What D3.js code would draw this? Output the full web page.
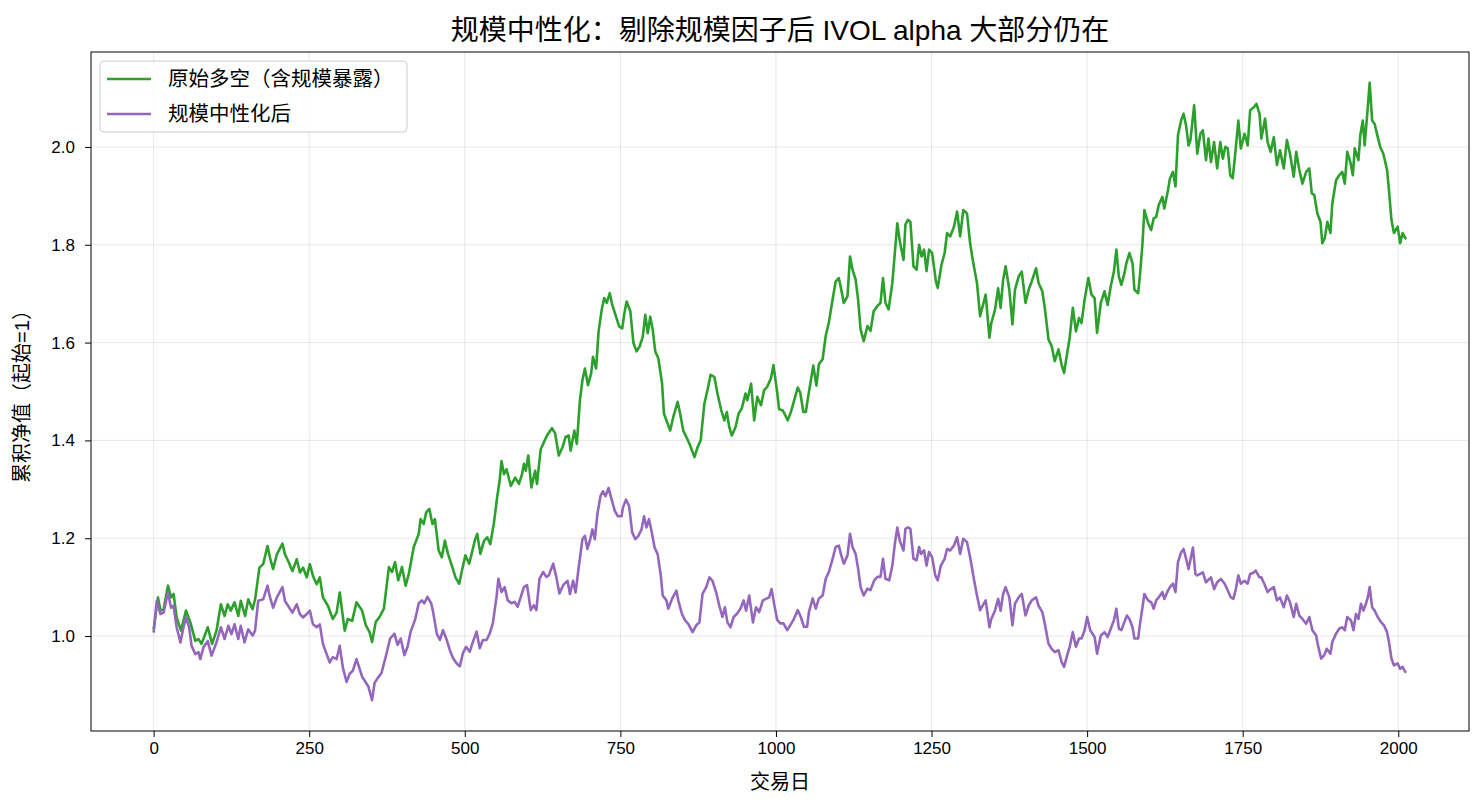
<!DOCTYPE html>
<html>
<head>
<meta charset="utf-8">
<script src="https://cdn.jsdelivr.net/npm/d3@7"></script>
<style>
  body { margin: 0; background: #fff; }
  text { font-family: "Liberation Sans", Arial, "Noto Sans CJK SC", sans-serif; }
</style>
</head>
<body>
<div id="chart"></div>
<script>
// [交易日, 累积净值]
var originalLS = [
  [0,1.014],[7,1.079],[11,1.052],[16,1.055],[23,1.103],[28,1.079],[32,1.086],[37,1.038],[44,1.011],[52,1.052],[59,1.028],[67,0.99],[72,0.994],[77,0.984],[87,1.018],[94,0.984],[101,1.011],[108,1.065],[114,1.041],[119,1.065],[124,1.052],[130,1.069],[136,1.041],[140,1.072],[147,1.041],[152,1.075],[159,1.055],[163,1.075],[170,1.14],[176,1.147],[183,1.184],[187,1.16],[192,1.137],[198,1.167],[207,1.189],[211,1.167],[216,1.154],[223,1.133],[230,1.157],[235,1.13],[240,1.14],[246,1.12],[251,1.147],[256,1.123],[262,1.106],[267,1.12],[272,1.079],[280,1.062],[288,1.035],[294,1.048],[299,1.089],[307,1.011],[312,1.035],[319,1.031],[326,1.069],
  [335,1.052],[341,1.022],[347,1.008],[351,0.988],[357,1.029],[363,1.039],[370,1.056],[378,1.141],[383,1.131],[388,1.151],[393,1.114],[399,1.141],[405,1.103],[410,1.127],[418,1.182],[426,1.209],[429,1.239],[434,1.229],[438,1.253],[443,1.26],[448,1.229],[452,1.239],[458,1.175],[463,1.161],[468,1.195],[473,1.168],[480,1.141],[485,1.12],[491,1.107],[496,1.137],[501,1.165],[507,1.148],[511,1.168],[516,1.195],[520,1.209],[525,1.168],[531,1.195],[536,1.202],[541,1.188],[547,1.233],[552,1.284],[556,1.318],[559,1.358],[563,1.331],[567,1.341],[574,1.307],[581,1.324],[587,1.311],[592,1.331],[595,1.352],[598,1.338],[602,1.369],[607,1.304],[613,1.338],[616,1.311],[622,1.382],[627,1.396],[632,1.41],[640,1.425],[645,1.415],[651,1.369],
  [657,1.386],[662,1.407],[667,1.41],[670,1.379],[676,1.42],[680,1.393],[685,1.482],[689,1.523],[693,1.547],[698,1.513],[703,1.537],[706,1.571],[711,1.547],[715,1.623],[720,1.667],[724,1.691],[728,1.681],[733,1.701],[737,1.677],[743,1.653],[748,1.633],[753,1.629],[756,1.657],[760,1.684],[766,1.664],[771,1.599],[776,1.582],[781,1.592],[786,1.612],[790,1.657],[794,1.619],[798,1.653],[802,1.626],[806,1.582],[811,1.568],[817,1.516],[820,1.455],[826,1.434],[830,1.42],[835,1.448],[842,1.479],[846,1.455],[851,1.42],[856,1.407],[862,1.39],[869,1.366],[874,1.386],[879,1.4],[885,1.475],[890,1.503],[895,1.534],[901,1.53],[906,1.496],[912,1.462],[917,1.441],[921,1.458],[925,1.427],[929,1.41],[935,1.427],[940,1.455],[945,1.465],[951,1.496],[954,1.482],[960,1.516],[965,1.441],[970,1.489],[976,1.472],[981,1.503],[986,1.51],[992,1.527],[996,1.554],
  [1002,1.498],[1005,1.464],[1011,1.461],[1014,1.454],[1019,1.441],[1024,1.458],[1029,1.481],[1035,1.508],[1039,1.498],[1044,1.458],[1048,1.458],[1052,1.491],[1056,1.522],[1060,1.553],[1065,1.512],[1069,1.556],[1075,1.566],[1080,1.614],[1085,1.641],[1091,1.688],[1096,1.725],[1101,1.732],[1105,1.708],[1109,1.681],[1115,1.695],[1119,1.776],[1123,1.749],[1128,1.729],[1132,1.688],[1136,1.627],[1141,1.603],[1147,1.634],[1152,1.624],[1157,1.664],[1163,1.675],[1168,1.681],[1172,1.732],[1176,1.681],[1181,1.668],[1187,1.722],[1191,1.783],[1195,1.844],[1199,1.807],[1205,1.769],[1208,1.841],[1212,1.851],[1216,1.847],[1221,1.756],[1226,1.749],[1230,1.8],[1234,1.776],[1238,1.79],[1242,1.746],[1246,1.79],[1251,1.783],[1257,1.725],[1260,1.712],[1266,1.759],[1271,1.783],[1275,1.824],[1280,1.817],[1286,1.837],[1291,1.868],[1296,1.817],[1301,1.871],[1307,1.864],[1312,1.803],[1317,1.763],[1323,1.722],[1328,1.654],
  [1337,1.698],[1343,1.61],[1346,1.64],[1352,1.667],[1357,1.711],[1361,1.671],[1365,1.728],[1369,1.756],[1375,1.708],[1380,1.637],[1384,1.708],[1390,1.735],[1395,1.745],[1401,1.681],[1406,1.708],[1411,1.725],[1418,1.752],[1422,1.722],[1428,1.705],[1432,1.671],[1438,1.606],[1443,1.593],[1448,1.562],[1454,1.586],[1459,1.555],[1463,1.538],[1468,1.579],[1472,1.61],[1477,1.671],[1482,1.623],[1487,1.65],[1491,1.64],[1496,1.688],[1502,1.732],[1507,1.698],[1512,1.691],[1516,1.62],[1522,1.681],[1528,1.705],[1533,1.677],[1538,1.715],[1543,1.745],[1547,1.79],[1551,1.735],[1555,1.718],[1560,1.742],[1563,1.762],[1568,1.783],[1573,1.762],[1576,1.708],[1582,1.701],[1585,1.739],[1589,1.803],[1592,1.871],[1598,1.844],[1603,1.83],[1607,1.854],[1611,1.857],[1615,1.881],[1621,1.898],[1624,1.874],[1630,1.912],[1633,1.935],[1638,1.949],[1642,1.919],[1646,2.024],[1651,2.054],[1655,2.068],[1659,2.044],[1663,2.003],
  [1666,2.014],[1672,2.085],[1677,1.986],[1682,2.027],[1686,2.034],[1691,1.973],[1695,2.017],[1699,1.969],[1704,2.01],[1709,1.956],[1714,2.01],[1718,1.976],[1722,2.0],[1726,1.997],[1730,1.942],[1734,1.936],[1738,1.986],[1743,2.054],[1747,1.997],[1753,2.027],[1758,2.003],[1762,2.075],[1768,2.081],[1772,2.088],[1777,2.068],[1780,2.017],[1786,2.058],[1790,2.01],[1795,1.99],[1800,2.02],[1805,1.963],[1810,1.993],[1816,1.956],[1821,2.014],[1826,1.986],[1832,1.939],[1836,1.99],[1841,1.953],[1846,1.925],[1852,1.949],[1857,1.956],[1861,1.905],[1865,1.902],[1870,1.864],[1875,1.847],[1878,1.803],[1882,1.814],[1886,1.847],[1891,1.824],[1894,1.885],[1900,1.932],[1905,1.942],[1910,1.949],[1914,1.925],[1918,1.99],[1923,1.969],[1927,1.942],[1930,1.997],[1936,1.973],[1939,2.024],[1943,2.054],[1946,2.003],[1951,2.081],[1954,2.131],[1958,2.054],[1962,2.047],[1967,2.02],[1971,2.0],[1976,1.986],[1982,1.953],[1985,1.912],[1989,1.851],[1993,1.824],[1999,1.837],[2003,1.803],[2007,1.824],[2011,1.814],[2013,1.812]
];

var neutralLS = [
  [0,1.007],[5,1.072],[11,1.045],[16,1.048],[23,1.089],[28,1.058],[32,1.062],[37,1.018],[43,0.987],[48,1.018],[52,1.038],[57,1.018],[61,0.98],[67,0.963],[72,0.967],[75,0.953],[80,0.977],[87,0.99],[93,0.96],[101,0.987],[108,1.018],[114,0.994],[120,1.021],[125,1.004],[130,1.024],[136,0.994],[140,1.021],[146,0.987],[152,1.014],[159,1.001],[163,1.011],[168,1.072],[176,1.075],[183,1.103],[187,1.079],[192,1.058],[198,1.079],[207,1.1],[211,1.072],[216,1.062],[223,1.048],[230,1.065],[235,1.045],[240,1.038],[246,1.045],[251,1.052],[256,1.024],[262,1.018],[267,1.024],[272,0.984],[278,0.963],[283,0.946],[288,0.957],[294,0.953],[299,0.98],[304,0.936],[310,0.906],[315,0.923],[320,0.929],[326,0.953],
  [335,0.917],[340,0.907],[345,0.897],[351,0.869],[355,0.904],[360,0.914],[366,0.924],[373,0.958],[380,0.995],[387,1.005],[392,0.982],[397,0.995],[403,0.961],[408,0.978],[413,1.009],[420,1.033],[426,1.067],[431,1.073],[435,1.067],[440,1.08],[446,1.067],[449,1.05],[455,1.005],[460,0.992],[465,1.012],[471,0.992],[476,0.971],[481,0.955],[487,0.944],[492,0.938],[497,0.965],[502,0.978],[508,0.968],[513,0.988],[519,1.009],[524,0.975],[529,0.992],[535,0.992],[540,1.005],[545,1.026],[551,1.08],[554,1.117],[559,1.09],[564,1.1],[569,1.073],[575,1.067],[580,1.07],[585,1.06],[591,1.084],[595,1.1],[600,1.104],[606,1.053],[611,1.063],[615,1.053],[620,1.117],[626,1.131],[631,1.121],[635,1.124],[642,1.148],[647,1.121],[652,1.087],[658,1.104],
  [665,1.113],[669,1.086],[674,1.113],[678,1.089],[683,1.14],[689,1.198],[693,1.205],[697,1.178],[701,1.195],[705,1.218],[709,1.198],[713,1.249],[718,1.286],[722,1.296],[726,1.286],[731,1.303],[736,1.279],[741,1.256],[746,1.245],[752,1.245],[754,1.262],[759,1.279],[764,1.266],[769,1.212],[774,1.198],[779,1.205],[784,1.218],[788,1.245],[792,1.222],[796,1.239],[800,1.215],[805,1.181],[810,1.167],[815,1.123],[818,1.083],[824,1.073],[827,1.056],[833,1.076],[840,1.093],[843,1.073],[849,1.045],[854,1.032],[859,1.025],[866,1.008],[872,1.022],[877,1.028],[882,1.086],[888,1.1],[893,1.12],[898,1.113],[904,1.089],[909,1.062],[914,1.039],[918,1.059],[922,1.028],[927,1.018],[932,1.039],[937,1.045],[943,1.056],[948,1.073],[952,1.052],[957,1.083],[963,1.028],[968,1.059],[973,1.049],[979,1.073],[984,1.076],[989,1.079],[993,1.096],[997,1.066],
  [1002,1.033],[1007,1.026],[1012,1.026],[1018,1.012],[1023,1.022],[1028,1.033],[1035,1.053],[1040,1.039],[1045,1.019],[1050,1.019],[1053,1.049],[1059,1.077],[1064,1.056],[1069,1.077],[1075,1.083],[1080,1.117],[1085,1.131],[1091,1.158],[1096,1.182],[1101,1.185],[1105,1.165],[1109,1.148],[1115,1.165],[1119,1.209],[1123,1.182],[1128,1.168],[1132,1.138],[1136,1.1],[1141,1.083],[1147,1.097],[1152,1.094],[1158,1.114],[1163,1.121],[1168,1.121],[1172,1.158],[1176,1.117],[1182,1.114],[1187,1.144],[1191,1.188],[1195,1.222],[1199,1.195],[1205,1.175],[1208,1.219],[1212,1.222],[1216,1.219],[1221,1.158],[1226,1.155],[1230,1.182],[1233,1.168],[1238,1.175],[1242,1.144],[1246,1.172],[1251,1.161],[1256,1.124],[1260,1.114],[1265,1.144],[1271,1.158],[1275,1.178],[1280,1.175],[1286,1.185],[1291,1.202],[1296,1.168],[1301,1.199],[1307,1.192],[1312,1.161],[1318,1.117],[1323,1.083],[1328,1.053],
  [1337,1.073],[1343,1.018],[1346,1.035],[1352,1.052],[1357,1.076],[1361,1.052],[1365,1.086],[1369,1.1],[1375,1.079],[1380,1.022],[1384,1.066],[1390,1.079],[1395,1.086],[1401,1.042],[1406,1.062],[1411,1.073],[1418,1.079],[1422,1.062],[1428,1.049],[1432,1.025],[1438,0.984],[1443,0.974],[1448,0.967],[1454,0.971],[1459,0.947],[1463,0.937],[1468,0.961],[1472,0.978],[1477,1.008],[1482,0.978],[1487,0.995],[1491,0.995],[1496,1.012],[1500,1.039],[1505,1.012],[1512,0.998],[1516,0.964],[1522,1.001],[1528,1.008],[1533,0.998],[1538,1.015],[1543,1.032],[1547,1.056],[1551,1.015],[1555,1.012],[1560,1.029],[1564,1.042],[1568,1.035],[1573,1.018],[1576,0.995],[1582,0.995],[1585,1.025],[1589,1.059],[1592,1.086],[1598,1.073],[1603,1.069],[1607,1.056],[1611,1.073],[1615,1.079],[1621,1.09],[1624,1.076],[1630,1.093],[1633,1.1],[1638,1.107],[1642,1.09],[1646,1.151],[1651,1.171],[1655,1.178],[1659,1.158],[1663,1.137],[1670,1.181],[1674,1.127],
  [1677,1.124],[1686,1.13],[1691,1.11],[1699,1.12],[1704,1.096],[1709,1.11],[1715,1.117],[1721,1.107],[1726,1.093],[1731,1.079],[1735,1.076],[1739,1.096],[1743,1.124],[1747,1.107],[1753,1.113],[1758,1.107],[1762,1.127],[1768,1.13],[1771,1.134],[1777,1.12],[1780,1.12],[1786,1.103],[1790,1.09],[1795,1.096],[1800,1.1],[1805,1.073],[1810,1.079],[1816,1.059],[1821,1.083],[1826,1.069],[1832,1.039],[1836,1.066],[1841,1.042],[1846,1.035],[1852,1.025],[1857,1.039],[1862,1.012],[1868,1.001],[1871,0.981],[1876,0.954],[1881,0.961],[1885,0.974],[1891,0.964],[1894,0.988],[1900,1.005],[1905,1.015],[1910,1.018],[1914,1.012],[1918,1.039],[1924,1.032],[1928,1.012],[1932,1.045],[1936,1.035],[1940,1.066],[1944,1.052],[1948,1.066],[1951,1.079],[1954,1.1],[1958,1.059],[1962,1.052],[1967,1.039],[1972,1.029],[1977,1.022],[1982,1.008],[1985,0.988],[1989,0.954],[1993,0.94],[1999,0.944],[2003,0.933],[2007,0.937],[2011,0.927],[2013,0.926]
];

var seriesNames = ["原始多空（含规模暴露）", "规模中性化后"];
var seriesColors = ["#2ca02c", "#9467bd"];
var xTicks = [0, 250, 500, 750, 1000, 1250, 1500, 1750, 2000];
var yTicks = [1.0, 1.2, 1.4, 1.6, 1.8, 2.0];

var margin = {top: 52, right: 15, bottom: 79, left: 91},
    width = 1484 - margin.left - margin.right,
    height = 810 - margin.top - margin.bottom;

var svg = d3.select("#chart")
    .append("svg")
    .attr("width", 1484)
    .attr("height", 810);

var g = svg.append("g")
    .attr("transform", "translate(" + margin.left + "," + margin.top + ")");

// matplotlib style 5% padding
function padded(ext) {
    var p = (ext[1] - ext[0]) * 0.05;
    return [ext[0] - p, ext[1] + p];
}
var all = originalLS.concat(neutralLS);

var x = d3.scaleLinear()
    .domain(padded(d3.extent(all, function(d) { return d[0]; })))
    .range([0, width]);

var y = d3.scaleLinear()
    .domain(padded(d3.extent(all, function(d) { return d[1]; })))
    .range([height, 0]);

// grid
g.append("g").selectAll("line")
    .data(xTicks).enter().append("line")
    .attr("x1", function(d) { return x(d); })
    .attr("x2", function(d) { return x(d); })
    .attr("y1", 0).attr("y2", height)
    .attr("stroke", "#b0b0b0").attr("stroke-opacity", 0.3).attr("stroke-width", 1);
g.append("g").selectAll("line")
    .data(yTicks).enter().append("line")
    .attr("y1", function(d) { return y(d); })
    .attr("y2", function(d) { return y(d); })
    .attr("x1", 0).attr("x2", width)
    .attr("stroke", "#b0b0b0").attr("stroke-opacity", 0.3).attr("stroke-width", 1);

// lines
var line = d3.line()
    .x(function(d) { return x(d[0]); })
    .y(function(d) { return y(d[1]); });

[originalLS, neutralLS].forEach(function(s, i) {
    g.append("path")
        .datum(s)
        .attr("fill", "none")
        .attr("stroke", seriesColors[i])
        .attr("stroke-width", 2.6)
        .attr("stroke-linejoin", "round")
        .attr("d", line);
});

// axes
var xAxis = g.append("g")
    .attr("transform", "translate(0," + height + ")")
    .call(d3.axisBottom(x).tickValues(xTicks).tickSize(6).tickPadding(5).tickFormat(d3.format("d")));
var yAxis = g.append("g")
    .call(d3.axisLeft(y).tickValues(yTicks).tickSize(6).tickPadding(10).tickFormat(d3.format(".1f")));
[xAxis, yAxis].forEach(function(a) {
    a.select(".domain").remove();
    a.selectAll("text").attr("font-size", 17).attr("fill", "#000")
        .style("font-family", '"Liberation Sans", Arial, sans-serif');
    a.selectAll("line").attr("stroke", "#000").attr("stroke-width", 1);
});

// frame
g.append("rect")
    .attr("x", 0).attr("y", 0)
    .attr("width", width).attr("height", height)
    .attr("fill", "none").attr("stroke", "#000").attr("stroke-width", 1);

// title & labels
svg.append("text")
    .attr("x", margin.left + width / 2).attr("y", 40)
    .attr("text-anchor", "middle").attr("font-size", 28)
    .text("规模中性化：剔除规模因子后 IVOL alpha 大部分仍在");

svg.append("text")
    .attr("x", margin.left + width / 2).attr("y", 789)
    .attr("text-anchor", "middle").attr("font-size", 20)
    .text("交易日");

svg.append("text")
    .attr("transform", "translate(29," + (margin.top + height / 2) + ") rotate(-90)")
    .attr("text-anchor", "middle").attr("font-size", 20)
    .text("累积净值（起始=1）");

// legend
var lg = g.append("g").attr("transform", "translate(9,9)");
lg.append("rect")
    .attr("width", 307).attr("height", 71)
    .attr("rx", 4).attr("ry", 4)
    .attr("fill", "#fff").attr("fill-opacity", 0.8)
    .attr("stroke", "#cccccc").attr("stroke-width", 1);
seriesNames.forEach(function(name, i) {
    var yy = 18 + i * 35;
    lg.append("line")
        .attr("x1", 7).attr("x2", 51)
        .attr("y1", yy).attr("y2", yy)
        .attr("stroke", seriesColors[i]).attr("stroke-width", 2.6);
    lg.append("text")
        .attr("x", 68).attr("y", yy + 7)
        .attr("font-size", 20.5)
        .text(name);
});
</script>
</body>
</html>
